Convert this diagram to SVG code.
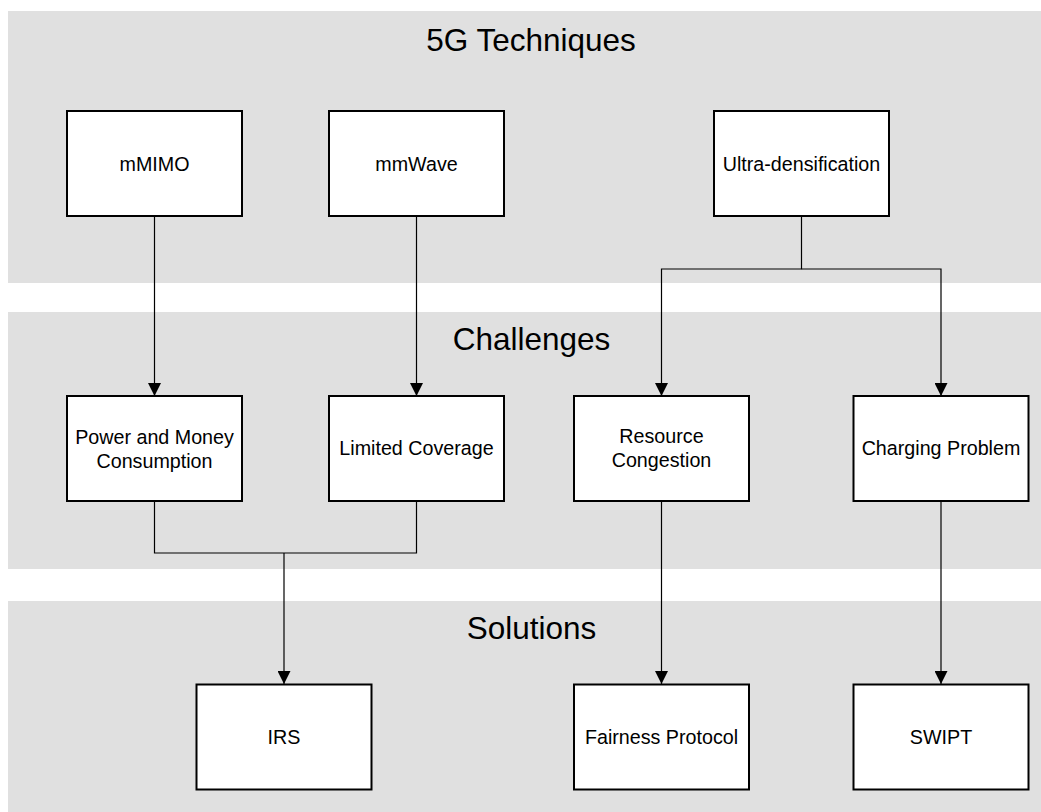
<svg xmlns="http://www.w3.org/2000/svg" width="1041" height="812" viewBox="0 0 1041 812">
  <style>
    .band { fill: #e0e0e0; }
    .title { font-family: "Liberation Sans", Arial, sans-serif; font-size: 31.5px; fill: #000; text-anchor: middle; }
    .box { fill: #fff; stroke: #000; stroke-width: 2; }
    .label { font-family: "Liberation Sans", Arial, sans-serif; font-size: 19.7px; fill: #000; text-anchor: middle; }
    .wire { fill: none; stroke: #000; stroke-width: 1.2; }
  </style>
  <defs>
    <marker id="arrow" viewBox="0 0 13 13" refX="13" refY="6.5" markerWidth="13" markerHeight="13" markerUnits="userSpaceOnUse" orient="auto">
      <path d="M0,0 L13,6.5 L0,13 Z" fill="#000"/>
    </marker>
  </defs>

  <rect width="1041" height="812" fill="#fff"/>

  <!-- layer bands -->
  <g id="bands">
    <rect class="band" x="8" y="11" width="1033" height="272"/>
    <rect class="band" x="8" y="312" width="1033" height="257"/>
    <rect class="band" x="8" y="601" width="1033" height="211"/>
    <text class="title" x="531" y="51">5G Techniques</text>
    <text class="title" x="531.5" y="350">Challenges</text>
    <text class="title" x="531.5" y="639">Solutions</text>
  </g>

  <!-- connectors -->
  <g id="connectors">
    <path class="wire" d="M154.5,216 V396" marker-end="url(#arrow)"/>
    <path class="wire" d="M416.5,216 V396" marker-end="url(#arrow)"/>
    <path class="wire" d="M801.5,216 V269 H661.5 V396" marker-end="url(#arrow)"/>
    <path class="wire" d="M801.5,269 H941 V396" marker-end="url(#arrow)"/>
    <path class="wire" d="M154.5,501 V553 H416.5 V501"/>
    <path class="wire" d="M284,553 V684" marker-end="url(#arrow)"/>
    <path class="wire" d="M661.5,501 V684" marker-end="url(#arrow)"/>
    <path class="wire" d="M941,501 V684" marker-end="url(#arrow)"/>
  </g>

  <!-- 5G techniques -->
  <g id="mMIMO">
    <rect class="box" x="67" y="111" width="175" height="105"/>
    <text class="label" x="154.5" y="170.5">mMIMO</text>
  </g>
  <g id="mmWave">
    <rect class="box" x="329" y="111" width="175" height="105"/>
    <text class="label" x="416.5" y="170.5">mmWave</text>
  </g>
  <g id="ultra-densification">
    <rect class="box" x="714" y="111" width="175" height="105"/>
    <text class="label" x="801.5" y="170.5">Ultra-densification</text>
  </g>

  <!-- challenges -->
  <g id="power-money">
    <rect class="box" x="67" y="396" width="175" height="105"/>
    <text class="label" x="154.5" y="443.5">Power and Money</text>
    <text class="label" x="154.5" y="467.5">Consumption</text>
  </g>
  <g id="limited-coverage">
    <rect class="box" x="329" y="396" width="175" height="105"/>
    <text class="label" x="416.5" y="455">Limited Coverage</text>
  </g>
  <g id="resource-congestion">
    <rect class="box" x="574" y="396" width="175" height="105"/>
    <text class="label" x="661.5" y="443">Resource</text>
    <text class="label" x="661.5" y="467">Congestion</text>
  </g>
  <g id="charging-problem">
    <rect class="box" x="853.5" y="396" width="175" height="105"/>
    <text class="label" x="941" y="455">Charging Problem</text>
  </g>

  <!-- solutions -->
  <g id="IRS">
    <rect class="box" x="196.5" y="684.5" width="175" height="105"/>
    <text class="label" x="284" y="744">IRS</text>
  </g>
  <g id="fairness-protocol">
    <rect class="box" x="574" y="684.5" width="175" height="105"/>
    <text class="label" x="661.5" y="744">Fairness Protocol</text>
  </g>
  <g id="SWIPT">
    <rect class="box" x="853.5" y="684.5" width="175" height="105"/>
    <text class="label" x="941" y="744">SWIPT</text>
  </g>
</svg>
